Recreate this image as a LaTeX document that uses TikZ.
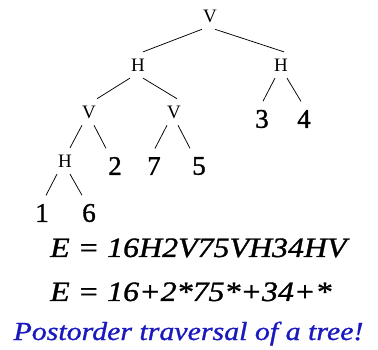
\documentclass[tikz,border=0pt]{standalone}
\usepackage{fontspec}
\setmainfont{Liberation Serif}
\newfontfamily\leaffont[FakeBold=1.2]{Liberation Serif}
\newfontfamily\eqfont[FakeStretch=1.14,FakeBold=1.2]{Liberation Serif}
\newfontfamily\notefont[FakeStretch=1.15,FakeBold=1]{Liberation Serif}
\usetikzlibrary{positioning}
\definecolor{noteblue}{RGB}{25,25,190}

\tikzset{
    oper/.style={inner xsep=0pt, inner ysep=6.7pt, font=\fontsize{19}{21}\selectfont},
    leaf/.style={inner xsep=0pt, inner ysep=8.5pt, font=\leaffont\fontsize{27}{29}\selectfont},
    edge/.style={line width=0.75pt}
}

\begin{document}
\begin{tikzpicture}[x=1pt, y=-1pt]
    \useasboundingbox (0,0) rectangle (378,350);

    % Operators (inner nodes of the tree)
    \node[oper] (v0) at (210,16)  {V};
    \node[oper] (h1) at (138,65)  {H};
    \node[oper] (h2) at (281,65)  {H};
    \node[oper] (v1) at (89,112)  {V};
    \node[oper] (v2) at (174,112) {V};
    \node[oper] (h3) at (65,161)  {H};

    % Operands (leaves)
    \node[leaf] (n3) at (262,119) {3};
    \node[leaf] (n4) at (304,119) {4};
    \node[leaf] (n2) at (115,166) {2};
    \node[leaf] (n7) at (154,166) {7};
    \node[leaf] (n5) at (199,166) {5};
    \node[leaf] (n1) at (42,213)  {1};
    \node[leaf] (n6) at (89,213)  {6};

    % Branches
    \draw[edge] ([xshift=-8pt]v0.south) -- ([xshift=5pt]h1.north);
    \draw[edge] ([xshift=5pt]v0.south)  -- ([xshift=3pt]h2.north);
    \draw[edge] ([xshift=-8pt]h1.south) -- ([xshift=8pt]v1.north);
    \draw[edge] ([xshift=5pt]h1.south)  -- ([xshift=3pt]v2.north);
    \draw[edge] ([xshift=-6pt]h2.south) -- ([xshift=1pt]n3.north);
    \draw[edge] ([xshift=6pt]h2.south)  -- ([xshift=-3pt]n4.north);
    \draw[edge] ([xshift=-7pt]v1.south) -- ([xshift=5pt]h3.north);
    \draw[edge] ([xshift=5pt]v1.south)  -- ([xshift=-9pt]n2.north);
    \draw[edge] ([xshift=-7pt]v2.south) -- ([xshift=1pt]n7.north);
    \draw[edge] ([xshift=4pt]v2.south)  -- ([xshift=-9pt]n5.north);
    \draw[edge] ([xshift=-8pt]h3.south) -- ([xshift=4pt]n1.north);
    \draw[edge] ([xshift=5pt]h3.south)  -- ([xshift=-7pt]n6.north);

    % Expressions and caption
    \node[anchor=base west, inner sep=0pt, font=\eqfont\itshape\fontsize{28}{30}\selectfont]
        (expr1) at (50,257) {E = 16H2V75VH34HV};
    \node[anchor=base west, inner sep=0pt, font=\eqfont\itshape\fontsize{28}{30}\selectfont]
        (expr2) at (50,301) {E = 16+2*75*+34+*};
    \node[anchor=base, inner sep=0pt, text=noteblue, font=\notefont\itshape\fontsize{26}{28}\selectfont]
        (note) at (188.5,340) {Postorder traversal of a tree!};
\end{tikzpicture}
\end{document}
